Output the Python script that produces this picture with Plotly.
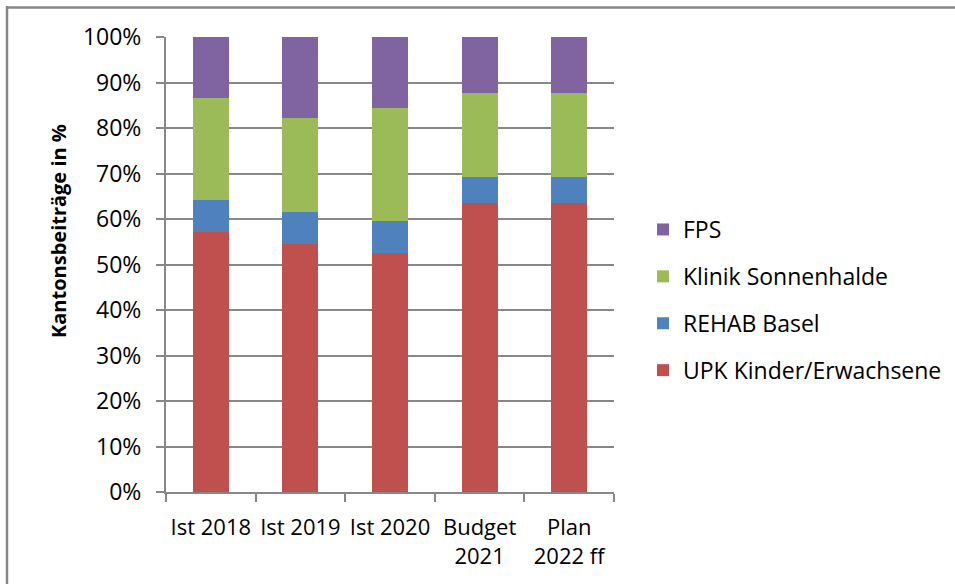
import plotly.graph_objects as go

categories = ["Ist 2018", "Ist 2019", "Ist 2020", "Budget<br>2021", "Plan<br>2022 ff"]
upk = [57.1, 54.6, 52.6, 63.6, 63.6]
rehab = [7.0, 7.0, 6.9, 5.7, 5.7]
klinik = [22.6, 20.6, 24.9, 18.5, 18.5]
fps = [13.3, 17.8, 15.6, 12.2, 12.2]

series = [
    ("UPK Kinder/Erwachsene", upk, "#C0504D", 4),
    ("REHAB Basel", rehab, "#4F81BD", 3),
    ("Klinik Sonnenhalde", klinik, "#9BBB59", 2),
    ("FPS", fps, "#8064A2", 1),
]

FONT = "Open Sans"
fig = go.Figure()
for name, vals, col, rank in series:
    fig.add_trace(go.Bar(x=categories, y=vals, name=name, legendgroup=name,
                         legendrank=rank,
                         marker=dict(color=col, line=dict(width=0))))

W, H = 955, 584
ml, mr, mt, mb = 166, 341, 37, 92
pw, ph = W - ml - mr, H - mt - mb

def px2x(p):
    return (p - ml) / pw

def px2y(p):
    return (H - mb - p) / ph

grid = "#878787"
fig.update_layout(
    width=W, height=H,
    margin=dict(l=ml, r=mr, t=mt, b=mb, autoexpand=False),
    barmode="stack", bargap=0.6,
    paper_bgcolor="white", plot_bgcolor="white",
    font=dict(family=FONT, size=23, color="#000000"),
    legend=dict(x=px2x(643), xanchor="left", y=px2y(300), yanchor="middle",
                traceorder="grouped", tracegroupgap=14,
                font=dict(family=FONT, size=23, color="#000000"),
                itemwidth=30, bgcolor="rgba(0,0,0,0)"),
    xaxis=dict(showline=True, linecolor=grid, linewidth=2, ticks="outside",
               tickson="boundaries", ticklen=8, tickcolor=grid, tickwidth=2,
               showgrid=False, ticklabelstandoff=15, tickangle=0,
               automargin=False,
               tickfont=dict(family=FONT, size=22, color="#000000")),
    yaxis=dict(range=[0, 100], dtick=10, ticksuffix="%", showline=True,
               linecolor=grid, linewidth=2, ticks="outside", ticklen=8,
               tickcolor=grid, tickwidth=2, showgrid=True, gridcolor=grid,
               gridwidth=2, zeroline=False, ticklabelstandoff=10,
               automargin=False,
               tickfont=dict(family=FONT, size=23, color="#000000")),
    annotations=[dict(text="<b>Kantonsbeiträge in %</b>", textangle=-90,
                      xref="paper", yref="paper", x=px2x(58), y=px2y(231),
                      xanchor="center", yanchor="middle", showarrow=False,
                      font=dict(family=FONT, size=20, color="#000000"))],
    shapes=[
        dict(type="line", xref="paper", yref="paper", x0=px2x(6), x1=px2x(960),
             y0=px2y(7.5), y1=px2y(7.5), line=dict(color=grid, width=2.5)),
        dict(type="line", xref="paper", yref="paper", x0=px2x(7), x1=px2x(7),
             y0=px2y(6), y1=px2y(590), line=dict(color=grid, width=2.5)),
    ],
)

fig.write_html("out.html")
